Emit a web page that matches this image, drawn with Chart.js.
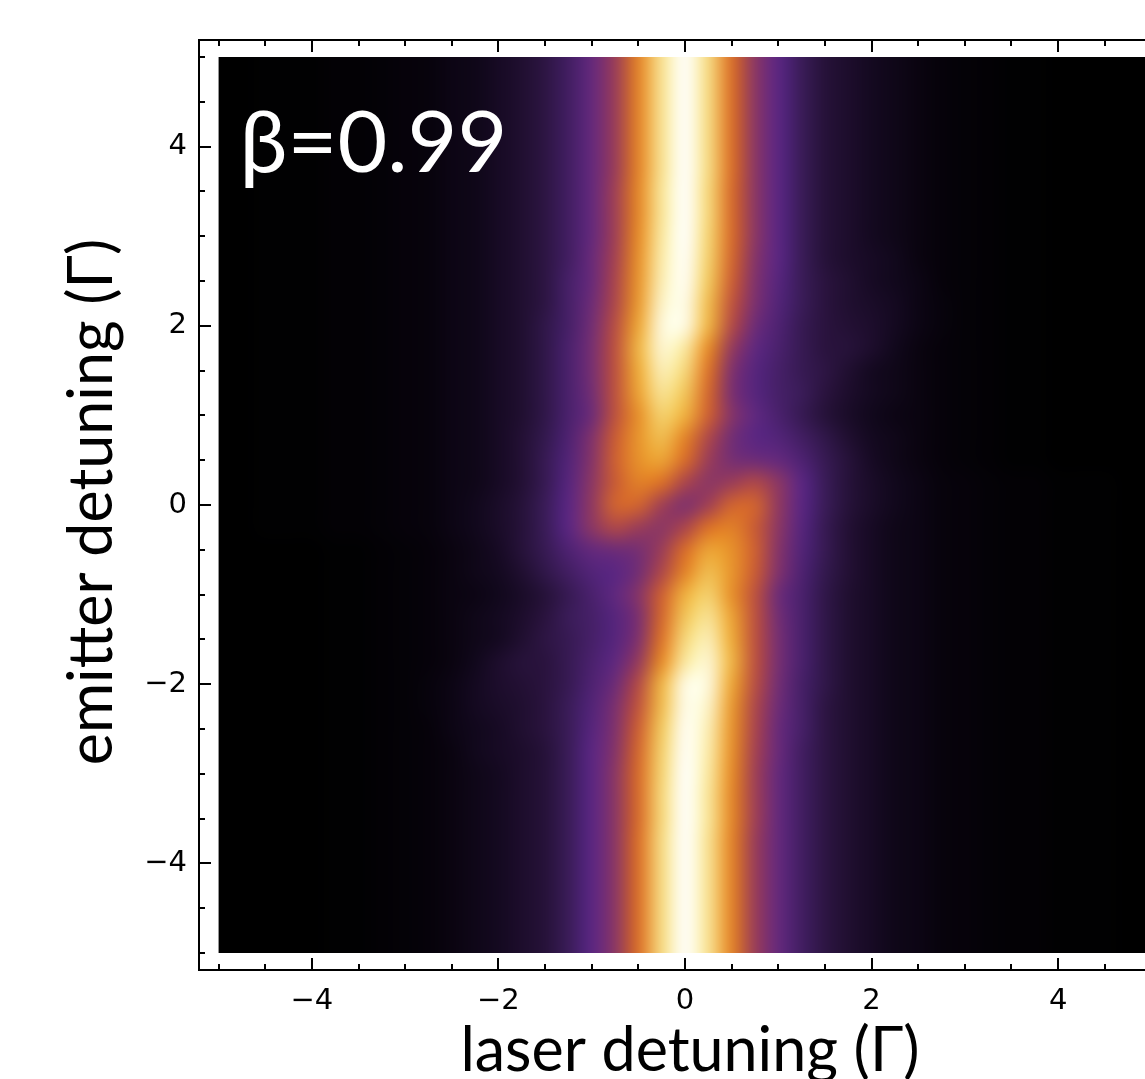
<!DOCTYPE html>
<html>
<head>
<meta charset="utf-8">
<script src="https://cdn.jsdelivr.net/npm/chart.js@4.4.1/dist/chart.umd.min.js"></script>
<style>
  html, body { margin: 0; padding: 0; background: #fff; overflow: hidden; }
</style>
</head>
<body>
<canvas id="map" width="1200" height="1079"></canvas>
<script>
// laser detuning (x) and emitter detuning (y), both in units of Gamma
var laserDetuning = [-5, -4.75, -4.5, -4.25, -4, -3.75, -3.5, -3.25, -3, -2.75, -2.5, -2.25, -2, -1.75, -1.5, -1.25, -1, -0.75, -0.5, -0.25,
  0, 0.25, 0.5, 0.75, 1, 1.25, 1.5, 1.75, 2, 2.25, 2.5, 2.75, 3, 3.25, 3.5, 3.75, 4, 4.25, 4.5, 4.75, 5];
// rows from top (5) to bottom (-5)
var emitterDetuning = [5, 4.75, 4.5, 4.25, 4, 3.75, 3.5, 3.25, 3, 2.75, 2.5, 2.25, 2, 1.75, 1.5, 1.25, 1, 0.75, 0.5, 0.25,
  0, -0.25, -0.5, -0.75, -1, -1.25, -1.5, -1.75, -2, -2.25, -2.5, -2.75, -3, -3.25, -3.5, -3.75, -4, -4.25, -4.5, -4.75, -5];

// signal, 0..100
var intensity = [
  [0,0,1,1,1,2,2,3,4,5,7,8,11,14,18,24,32,43,63,86,100,84,58,40,30,22,16,13,10,8,6,4,3,2,1,1,0,0,0,0,0],
  [0,0,1,1,1,2,2,3,4,5,7,8,11,14,18,24,32,43,63,86,100,84,58,40,30,22,16,13,10,8,6,4,3,2,1,1,0,0,0,0,0],
  [0,0,1,1,1,2,2,3,4,5,7,8,11,14,18,24,32,43,63,86,100,84,58,40,30,22,16,13,10,8,6,4,3,2,1,1,0,0,0,0,0],
  [0,0,1,1,1,2,2,3,4,5,7,8,11,14,18,24,32,43,63,86,100,84,58,40,30,22,16,13,10,8,6,4,3,2,1,1,0,0,0,0,0],
  [0,0,1,1,1,2,2,3,4,5,7,8,11,14,18,24,32,43,63,86,100,84,58,40,30,22,16,13,10,8,6,4,3,2,1,1,0,0,0,0,0],
  [0,0,1,1,1,2,2,3,4,5,7,8,11,14,18,24,32,43,63,86,100,84,58,40,30,22,16,13,10,8,6,4,3,2,1,1,0,0,0,0,0],
  [0,0,1,1,1,2,2,3,4,5,7,8,11,14,18,24,32,44,64,87,100,83,57,40,30,22,16,13,10,8,6,4,3,2,1,1,0,0,0,0,0],
  [0,0,1,1,1,2,2,3,4,5,7,8,11,14,18,24,32,44,64,87,100,83,57,40,30,22,16,13,10,8,6,4,3,2,1,1,0,0,0,0,0],
  [0,0,1,1,1,2,2,3,4,5,7,8,11,14,18,24,32,44,65,88,100,82,57,40,30,22,16,13,10,8,6,4,3,2,1,1,0,0,0,0,0],
  [0,0,1,1,1,2,2,3,4,5,7,8,11,14,18,24,33,45,66,89,99,81,56,39,30,22,16,13,11,9,6,4,3,2,1,1,0,0,0,0,0],
  [0,0,1,1,1,2,2,3,4,5,7,8,11,14,18,25,33,46,67,90,98,79,54,38,29,22,17,14,11,9,7,4,3,2,1,1,0,0,0,0,0],
  [0,0,1,1,1,2,2,3,4,5,7,8,11,14,18,25,34,47,68,92,96,76,51,37,28,22,17,14,12,10,7,5,3,2,1,1,0,0,0,0,0],
  [0,0,1,1,1,2,2,3,4,5,7,8,11,14,19,25,35,49,71,94,95,74,48,34,27,21,17,15,13,10,7,5,3,2,1,1,0,0,0,0,0],
  [0,0,1,1,1,2,2,3,4,5,7,8,11,14,19,26,36,50,74,93,88,65,42,31,26,21,17,16,13,9,6,4,3,2,1,1,0,0,0,0,0],
  [0,0,1,1,1,2,2,3,4,5,7,8,11,14,19,26,36,50,72,90,83,59,38,29,25,21,18,14,10,8,6,4,3,2,1,1,0,0,0,0,0],
  [0,0,1,1,1,2,2,3,4,5,7,8,11,14,19,26,35,50,70,86,78,56,37,29,25,22,17,13,10,8,6,4,3,2,1,1,0,0,0,0,0],
  [0,0,1,1,1,2,2,3,4,5,7,8,11,14,19,26,34,50,66,81,73,54,39,31,26,21,16,12,9,7,6,4,3,2,1,1,0,0,0,0,0],
  [0,0,1,1,1,2,2,3,4,5,7,8,11,15,20,27,38,53,67,76,63,47,35,30,28,24,19,14,10,8,6,4,3,2,1,1,0,0,0,0,0],
  [0,0,1,1,1,2,2,3,4,5,7,8,11,15,21,28,39,54,66,70,57,43,36,34,32,27,21,16,11,8,6,4,3,2,1,1,0,0,0,0,0],
  [0,0,1,1,1,2,2,3,4,5,7,8,11,15,21,29,40,53,62,58,46,40,43,47,40,30,22,16,12,9,7,5,4,3,2,2,1,1,1,0,0],
  [0,0,1,1,1,2,2,3,4,5,7,9,12,16,22,30,41,55,55,44,38,44,55,55,41,30,22,16,12,9,7,5,4,3,2,2,1,1,1,0,0],
  [0,0,1,1,1,2,2,3,4,5,7,9,12,16,22,30,40,47,43,40,46,58,62,53,40,29,21,15,11,8,7,5,4,3,2,2,1,1,1,0,0],
  [0,0,0,0,0,1,1,2,3,4,6,8,11,16,21,27,32,34,36,43,57,70,66,54,39,28,21,15,11,8,7,5,4,3,2,2,1,1,1,0,0],
  [0,0,0,0,0,1,1,2,3,4,6,8,10,14,19,24,28,30,35,47,63,76,67,53,38,27,20,15,11,8,7,5,4,3,2,2,1,1,1,0,0],
  [0,0,0,0,0,1,1,2,3,4,6,7,9,12,16,21,26,31,39,54,73,81,66,50,34,26,19,14,11,8,7,5,4,3,2,2,1,1,1,0,0],
  [0,0,0,0,0,1,1,2,3,4,6,8,10,13,17,22,25,29,37,56,78,86,70,50,35,26,19,14,11,8,7,5,4,3,2,2,1,1,1,0,0],
  [0,0,0,0,0,1,1,2,3,4,6,8,10,14,18,21,25,29,38,59,83,90,72,50,36,26,19,14,11,8,7,5,4,3,2,2,1,1,1,0,0],
  [0,0,0,0,0,1,1,2,3,4,6,9,13,16,17,21,26,31,42,65,88,93,74,50,36,26,19,14,11,8,7,5,4,3,2,2,1,1,1,0,0],
  [0,0,0,0,0,1,1,2,3,5,7,10,13,15,17,21,27,34,48,74,95,94,71,49,35,25,19,14,11,8,7,5,4,3,2,2,1,1,1,0,0],
  [0,0,0,0,0,1,1,2,3,5,7,10,12,14,17,22,28,37,51,76,96,92,68,47,34,25,18,14,11,8,7,5,4,3,2,2,1,1,1,0,0],
  [0,0,0,0,0,1,1,2,3,4,7,9,11,14,17,22,29,38,54,79,98,90,67,46,33,25,18,14,11,8,7,5,4,3,2,2,1,1,1,0,0],
  [0,0,0,0,0,1,1,2,3,4,6,9,11,13,16,22,30,39,56,81,99,89,66,45,33,24,18,14,11,8,7,5,4,3,2,2,1,1,1,0,0],
  [0,0,0,0,0,1,1,2,3,4,6,8,10,13,16,22,30,40,57,82,100,88,65,44,32,24,18,14,11,8,7,5,4,3,2,2,1,1,1,0,0],
  [0,0,0,0,0,1,1,2,3,4,6,8,10,13,16,22,30,40,57,83,100,87,64,44,32,24,18,14,11,8,7,5,4,3,2,2,1,1,1,0,0],
  [0,0,0,0,0,1,1,2,3,4,6,8,10,13,16,22,30,40,57,83,100,87,64,44,32,24,18,14,11,8,7,5,4,3,2,2,1,1,1,0,0],
  [0,0,0,0,0,1,1,2,3,4,6,8,10,13,16,22,30,40,58,84,100,86,63,43,32,24,18,14,11,8,7,5,4,3,2,2,1,1,1,0,0],
  [0,0,0,0,0,1,1,2,3,4,6,8,10,13,16,22,30,40,58,84,100,86,63,43,32,24,18,14,11,8,7,5,4,3,2,2,1,1,1,0,0],
  [0,0,0,0,0,1,1,2,3,4,6,8,10,13,16,22,30,40,58,84,100,86,63,43,32,24,18,14,11,8,7,5,4,3,2,2,1,1,1,0,0],
  [0,0,0,0,0,1,1,2,3,4,6,8,10,13,16,22,30,40,58,84,100,86,63,43,32,24,18,14,11,8,7,5,4,3,2,2,1,1,1,0,0],
  [0,0,0,0,0,1,1,2,3,4,6,8,10,13,16,22,30,40,58,84,100,86,63,43,32,24,18,14,11,8,7,5,4,3,2,2,1,1,1,0,0],
  [0,0,0,0,0,1,1,2,3,4,6,8,10,13,16,22,30,40,58,84,100,86,63,43,32,24,18,14,11,8,7,5,4,3,2,2,1,1,1,0,0]
];

var tickLabels = [-4, -2, 0, 2, 4];
var minorTicks = [-5, -4.5, -4, -3.5, -3, -2.5, -2, -1.5, -1, -0.5, 0, 0.5, 1, 1.5, 2, 2.5, 3, 3.5, 4, 4.5, 5];
var xTitle = 'laser detuning (Γ)';
var yTitle = 'emitter detuning (Γ)';
var panelLabel = 'β=0.99';

// colour map stops: value, r, g, b
var cmap = [
  [0, 0, 0, 0], [5, 7, 3, 12], [10, 20, 9, 32], [15, 35, 16, 52], [22, 58, 28, 88],
  [30, 90, 38, 130], [38, 128, 50, 108], [45, 165, 66, 80], [52, 198, 88, 55],
  [58, 218, 112, 40], [65, 230, 140, 40], [72, 238, 172, 58], [80, 243, 205, 100],
  [88, 250, 232, 160], [95, 254, 250, 225], [100, 255, 255, 250]
];

function colorAt(v) {
  for (var k = 1; k < cmap.length; k++) {
    if (v <= cmap[k][0]) {
      var a = cmap[k - 1], b = cmap[k];
      var t = (v - a[0]) / (b[0] - a[0]);
      return [a[1] + (b[1] - a[1]) * t, a[2] + (b[2] - a[2]) * t, a[3] + (b[3] - a[3]) * t];
    }
  }
  return cmap[cmap.length - 1].slice(1);
}

function fmt(v) {
  return v < 0 ? '\u2212' + Math.abs(v) : String(v);
}

var heatmap = {
  id: 'heatmap',
  beforeDatasetsDraw: function (chart) {
    var xs = chart.scales.x, ys = chart.scales.y, ctx = chart.ctx;
    var nx = laserDetuning.length, ny = emitterDetuning.length;
    var img = document.createElement('canvas');
    img.width = nx; img.height = ny;
    var ictx = img.getContext('2d');
    var pix = ictx.createImageData(nx, ny);
    for (var r = 0; r < ny; r++) {
      for (var c = 0; c < nx; c++) {
        var col = colorAt(intensity[r][c]);
        var o = (r * nx + c) * 4;
        pix.data[o] = col[0]; pix.data[o + 1] = col[1]; pix.data[o + 2] = col[2]; pix.data[o + 3] = 255;
      }
    }
    ictx.putImageData(pix, 0, 0);

    var x0 = xs.getPixelForValue(laserDetuning[0]), x1 = xs.getPixelForValue(laserDetuning[nx - 1]);
    var y0 = ys.getPixelForValue(emitterDetuning[0]), y1 = ys.getPixelForValue(emitterDetuning[ny - 1]);
    var cw = (x1 - x0) / (nx - 1), ch = (y1 - y0) / (ny - 1);
    ctx.save();
    ctx.beginPath();
    ctx.rect(x0, y0, x1 - x0, y1 - y0);
    ctx.clip();
    ctx.imageSmoothingEnabled = true;
    ctx.imageSmoothingQuality = 'high';
    ctx.drawImage(img, x0 - cw / 2, y0 - ch / 2, cw * nx, ch * ny);
    ctx.restore();

    ctx.save();
    ctx.fillStyle = '#fff';
    ctx.font = '86px Lato';
    ctx.textBaseline = 'alphabetic';
    ctx.fillText(panelLabel, x0 + 21, y0 + 115);
    ctx.restore();
  }
};

var frame = {
  id: 'frame',
  afterDraw: function (chart) {
    var a = chart.chartArea, ctx = chart.ctx, xs = chart.scales.x, ys = chart.scales.y;
    ctx.save();
    ctx.strokeStyle = '#000';
    ctx.lineWidth = 2;
    ctx.strokeRect(a.left, a.top, a.right - a.left, a.bottom - a.top);
    minorTicks.forEach(function (v) {
      var len = tickLabels.indexOf(v) >= 0 ? 12 : 6;
      var px = Math.round(xs.getPixelForValue(v)), py = Math.round(ys.getPixelForValue(v));
      ctx.beginPath();
      ctx.moveTo(px, a.bottom); ctx.lineTo(px, a.bottom - len);
      ctx.moveTo(px, a.top); ctx.lineTo(px, a.top + len);
      ctx.moveTo(a.left, py); ctx.lineTo(a.left + len, py);
      ctx.moveTo(a.right, py); ctx.lineTo(a.right - len, py);
      ctx.stroke();
    });

    ctx.fillStyle = '#000';
    ctx.font = '61px Lato';
    ctx.textAlign = 'center';
    ctx.textBaseline = 'alphabetic';
    ctx.fillText(xTitle, (a.left + a.right) / 2 + 5, 1071);
    ctx.translate(112, (a.top + a.bottom) / 2 - 3);
    ctx.rotate(-Math.PI / 2);
    ctx.fillText(yTitle, 0, 0);
    ctx.restore();
  }
};

var tickFont = { family: 'DejaVu Sans', size: 29 };

new Chart(document.getElementById('map'), {
  type: 'scatter',
  data: { datasets: [] },
  options: {
    responsive: false,
    animation: false,
    layout: { padding: { top: 40, right: 29, left: 0, bottom: 0 } },
    plugins: { legend: { display: false }, tooltip: { enabled: false } },
    scales: {
      x: {
        type: 'linear', min: -5.21, max: 5.21,
        afterBuildTicks: function (s) { s.ticks = tickLabels.map(function (v) { return { value: v }; }); },
        afterFit: function (s) { s.height = 109; },
        grid: { display: false, drawTicks: false },
        border: { display: false },
        ticks: { font: tickFont, color: '#000', padding: 14, maxRotation: 0, autoSkip: false, callback: fmt }
      },
      y: {
        type: 'linear', min: -5.19, max: 5.19,
        afterBuildTicks: function (s) { s.ticks = tickLabels.map(function (v) { return { value: v }; }); },
        afterFit: function (s) { s.width = 199; },
        grid: { display: false, drawTicks: false },
        border: { display: false },
        ticks: { font: tickFont, color: '#000', padding: 12, autoSkip: false, callback: fmt }
      }
    }
  },
  plugins: [heatmap, frame]
});
</script>
</body>
</html>
